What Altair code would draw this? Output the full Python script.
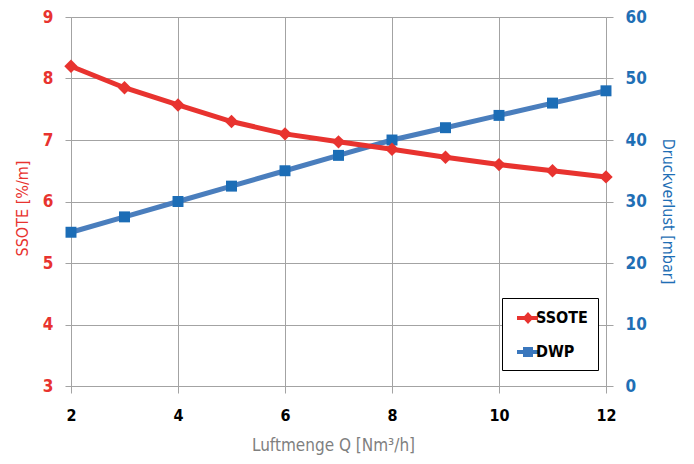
import altair as alt
import pandas as pd

x_vals = [2, 3, 4, 5, 6, 7, 8, 9, 10, 11, 12]
ssote = [8.2, 7.85, 7.57, 7.3, 7.1, 6.97, 6.85, 6.72, 6.6, 6.5, 6.4]
dwp = [25, 27.5, 30, 32.5, 35, 37.5, 40, 42, 44, 46, 48]
series = ["SSOTE", "DWP"]
x_ticks = [2, 4, 6, 8, 10, 12]
left_ticks = [3, 4, 5, 6, 7, 8, 9]
right_ticks = [0, 10, 20, 30, 40, 50, 60]

RED = "#e8332f"
BLUE_LINE = "#4a7ebd"
BLUE_MARK = "#1c6db6"
BLUE_TXT = "#1f6fb5"
GRID = "#a3a3a3"
FONT = "Liberation Sans Narrow, DejaVu Sans Condensed, Liberation Sans, sans-serif"

df_s = pd.DataFrame({"Q": x_vals, "SSOTE": ssote})
df_d = pd.DataFrame({"Q": x_vals, "DWP": dwp})
df_leg = pd.DataFrame({"Q": x_vals, "SSOTE": ssote, "Serie": [series[0]] * len(x_vals)})

x_enc = alt.X(
    "Q:Q",
    scale=alt.Scale(domain=[2, 12], nice=False, zero=False),
    axis=alt.Axis(
        values=x_ticks, title="Luftmenge Q [Nm³/h]", grid=True, gridColor=GRID,
        domainColor=GRID, tickColor=GRID, tickSize=7, labelFont=FONT, labelFontSize=16,
        labelFontWeight="bold", labelColor="black", labelPadding=14, labelFlush=False,
        titleFont=FONT, titleFontSize=17, titleFontWeight="normal", titleColor="#7f7f7f",
        titlePadding=14, titleX=262, titleAlign="center",
    ),
)

y_left = alt.Y(
    "SSOTE:Q",
    scale=alt.Scale(domain=[3, 9], nice=False, zero=False),
    axis=alt.Axis(
        orient="left", values=left_ticks, title="SSOTE [%/m]", grid=True, gridColor=GRID,
        domainColor=GRID, tickColor=GRID, tickSize=6, labelFont=FONT, labelFontSize=17,
        labelFontWeight="bold", labelColor=RED, labelPadding=12, labelFlush=False,
        titleFont=FONT, titleFontSize=16, titleFontWeight="normal", titleColor=RED,
        titlePadding=12, titleY=191, titleAlign="center",
    ),
)

y_right = alt.Y(
    "DWP:Q",
    scale=alt.Scale(domain=[0, 60], nice=False),
    axis=alt.Axis(
        orient="right", values=right_ticks, title="Druckverlust [mbar]", grid=False,
        domainColor=GRID, tickColor=GRID, tickSize=7, labelFont=FONT, labelFontSize=17,
        labelFontWeight="bold", labelColor=BLUE_TXT, labelPadding=12, labelFlush=False,
        titleFont=FONT, titleFontSize=16, titleFontWeight="normal", titleColor=BLUE_TXT,
        titlePadding=13, titleAngle=90, titleY=194, titleAlign="center",
    ),
)

blue_line = alt.Chart(df_d).mark_line(color=BLUE_LINE, strokeWidth=5).encode(x=x_enc, y=y_right)
blue_pts = alt.Chart(df_d).mark_point(shape="square", filled=True, color=BLUE_MARK, size=120, opacity=1).encode(x=x_enc, y=y_right)
blue = alt.layer(blue_line, blue_pts)

red_line = alt.Chart(df_s).mark_line(color=RED, strokeWidth=5).encode(x=x_enc, y=y_left)
red_pts = alt.Chart(df_s).mark_point(shape="diamond", filled=True, color=RED, size=180, opacity=1).encode(x=x_enc, y=y_left)

leg_paths = [
    "M-0.5,-0.2L1.6,-0.2L1.6,0.2L-0.5,0.2Z M0.6,-0.6L1.15,0L0.6,0.6L0.05,0Z",
    "M-0.5,-0.2L1.6,-0.2L1.6,0.2L-0.5,0.2Z M0.1,-0.5L1.1,-0.5L1.1,0.5L0.1,0.5Z",
]
legend = alt.Legend(
    orient="none", legendX=431, legendY=281, title=None, strokeColor="black",
    fillColor="white", padding=10, rowPadding=16, symbolSize=400, labelOffset=4,
    labelFont=FONT, labelFontSize=16, labelFontWeight="bold", labelColor="black",
    symbolOpacity=1, symbolStrokeWidth=0, labelLimit=200,
)
leg_layer = alt.Chart(df_leg).mark_point(filled=True, opacity=0).encode(
    x=x_enc, y=y_left,
    color=alt.Color("Serie:N", scale=alt.Scale(domain=series, range=[RED, "#3a77bd"]), legend=legend),
    shape=alt.Shape("Serie:N", scale=alt.Scale(domain=series, range=leg_paths), legend=legend),
)
red = alt.layer(red_line, red_pts, leg_layer)

chart = (
    alt.layer(blue, red)
    .resolve_scale(y="independent")
    .properties(
        width=535, height=369,
        autosize=alt.AutoSizeParams(type="none"),
        padding={"left": 63, "top": 9, "right": 78, "bottom": 70},
    )
    .configure_view(stroke=None)
)

chart.save("out.html", embed_options={"renderer": "svg", "actions": False})
